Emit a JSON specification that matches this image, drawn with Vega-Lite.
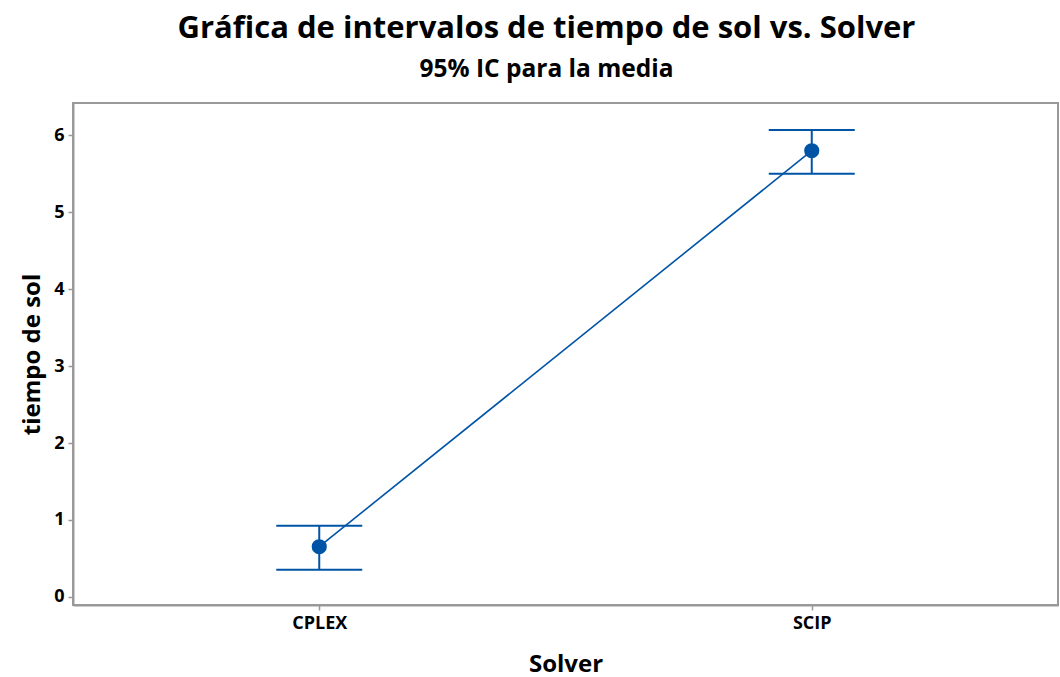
{
  "$schema": "https://vega.github.io/schema/vega-lite/v6.json",
  "width": 985,
  "height": 502,
  "autosize": "none",
  "padding": {"left": 73, "top": 103, "right": 2, "bottom": 72},
  "background": "white",
  "title": {
    "text": "Gráfica de intervalos de tiempo de sol vs. Solver",
    "subtitle": "95% IC para la media",
    "anchor": "middle",
    "dx": -19,
    "offset": 21,
    "font": "Open Sans",
    "fontSize": 31,
    "fontWeight": "bold",
    "color": "black",
    "subtitleFont": "Open Sans",
    "subtitleFontSize": 24.5,
    "subtitleFontWeight": "bold",
    "subtitleColor": "black",
    "subtitlePadding": 13
  },
  "config": {
    "view": {"stroke": "#999999", "strokeWidth": 2},
    "axis": {
      "labelFont": "Open Sans",
      "labelFontSize": 18,
      "labelFontWeight": "bold",
      "labelColor": "black",
      "titleFont": "Open Sans",
      "titleFontSize": 24,
      "titleFontWeight": "bold",
      "titleColor": "black",
      "domainColor": "#999999",
      "domainWidth": 2,
      "tickColor": "#999999",
      "tickWidth": 1.5,
      "tickSize": 5,
      "labelPadding": 4,
      "grid": false
    }
  },
  "data": {
    "values": [
      {"Solver": "CPLEX", "mean": 0.653, "lower": 0.355, "upper": 0.926},
      {"Solver": "SCIP", "mean": 5.796, "lower": 5.497, "upper": 6.065}
    ]
  },
  "encoding": {
    "x": {
      "field": "Solver",
      "type": "nominal",
      "scale": {"type": "point", "padding": 0.5},
      "axis": {"labelAngle": 0, "title": "Solver", "titlePadding": 20}
    }
  },
  "layer": [
    {
      "mark": {"type": "line", "color": "#0054A6", "strokeWidth": 1.6},
      "encoding": {
        "y": {
          "field": "mean",
          "type": "quantitative",
          "scale": {"domain": [-0.104, 6.416], "nice": false, "zero": false},
          "axis": {"values": [0, 1, 2, 3, 4, 5, 6], "format": "d", "title": "tiempo de sol", "titlePadding": 9}
        }
      }
    },
    {
      "mark": {"type": "rule", "color": "#0054A6", "strokeWidth": 2},
      "encoding": {
        "y": {"field": "lower", "type": "quantitative"},
        "y2": {"field": "upper"}
      }
    },
    {
      "mark": {"type": "tick", "color": "#0054A6", "opacity": 1, "thickness": 2, "size": 86, "orient": "horizontal"},
      "encoding": {"y": {"field": "lower", "type": "quantitative"}}
    },
    {
      "mark": {"type": "tick", "color": "#0054A6", "opacity": 1, "thickness": 2, "size": 86, "orient": "horizontal"},
      "encoding": {"y": {"field": "upper", "type": "quantitative"}}
    },
    {
      "mark": {"type": "circle", "color": "#0054A6", "opacity": 1, "size": 230},
      "encoding": {"y": {"field": "mean", "type": "quantitative"}}
    }
  ]
}
